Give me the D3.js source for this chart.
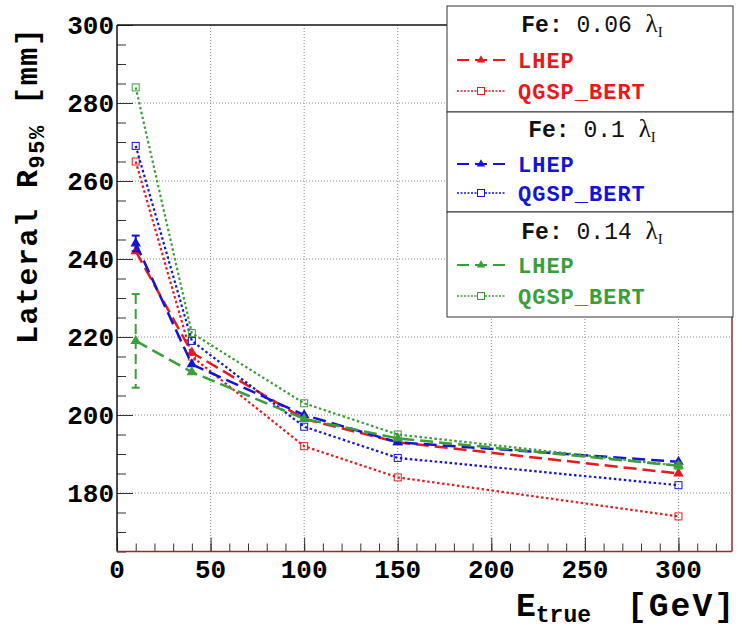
<!DOCTYPE html>
<html><head><meta charset="utf-8">
<script src="https://cdn.jsdelivr.net/npm/d3@7"></script>
<style>body{margin:0;background:#fff}</style>
</head><body>
<svg id="c" width="737" height="630"></svg>
<script>
// ---- data ----
const energies = [10, 40, 100, 150, 300];
const redLHEP    = [242, 216, 199, 193, 185];
const redQGSP    = [265, 215, 192, 184, 174];
const blueLHEP   = [244, 213, 200, 193, 188];
const blueQGSP   = [269, 219, 197, 189, 182];
const greenLHEP  = [219, 211, 199, 194, 187];
const greenQGSP  = [284, 221, 203, 195, 187];
const blueLHEPErr  = [2, 0, 0, 0, 0];
const greenLHEPErr = [12, 0, 0, 0, 0];
const legendTitles = ["0.06", "0.1", "0.14"];
const modelNames = ["LHEP", "QGSP_BERT"];
const xTicks = [0, 50, 100, 150, 200, 250, 300];
const yTicks = [180, 200, 220, 240, 260, 280, 300];

const RED = "#e8191c", BLUE = "#1414d8", GREEN = "#3a9e3a";
const series = [
  {vals: redLHEP, err: null, color: RED, model: 0},
  {vals: redQGSP, err: null, color: RED, model: 1},
  {vals: blueLHEP, err: blueLHEPErr, color: BLUE, model: 0},
  {vals: blueQGSP, err: null, color: BLUE, model: 1},
  {vals: greenLHEP, err: greenLHEPErr, color: GREEN, model: 0},
  {vals: greenQGSP, err: null, color: GREEN, model: 1}
];
const legendColors = [RED, BLUE, GREEN];

const svg = d3.select("#c");
const L = 117, R = 732, T = 25, B = 551.5;
const x = d3.scaleLinear().domain([0, 328.6]).range([L, R]);
const y = d3.scaleLinear().domain([165, 300]).range([B, T]);
const mono = "'Liberation Mono','Courier New',monospace";

// grid
const g = svg.append("g");
g.selectAll(".gx").data(xTicks.filter(d => d > 0)).enter().append("line")
  .attr("x1", d => x(d)).attr("x2", d => x(d)).attr("y1", T).attr("y2", B)
  .attr("stroke", "#8a8a8a").attr("stroke-width", 1).attr("stroke-dasharray", "1,2");
g.selectAll(".gy").data(yTicks.filter(d => d < 300)).enter().append("line")
  .attr("x1", L).attr("x2", R).attr("y1", d => y(d)).attr("y2", d => y(d))
  .attr("stroke", "#8a8a8a").attr("stroke-width", 1).attr("stroke-dasharray", "1,2");

// axes (ticks inward)
const xAxis = d3.axisTop(x).tickValues(d3.range(0, 330, 10)).tickSize(8).tickFormat("");
const xMaj = d3.axisTop(x).tickValues(xTicks).tickSize(14).tickFormat("");
const yAxis = d3.axisRight(y).tickValues(d3.range(165, 301, 5)).tickSize(9).tickFormat("");
const yMaj = d3.axisRight(y).tickValues(yTicks).tickSize(16).tickFormat("");
[[xAxis, `translate(0,${B})`], [xMaj, `translate(0,${B})`], [yAxis, `translate(${L},0)`], [yMaj, `translate(${L},0)`]].forEach(([ax, tr]) => {
  const a = svg.append("g").attr("transform", tr).call(ax);
  a.select(".domain").remove();
  a.selectAll("line").attr("stroke", "#333").attr("stroke-width", 1);
});

// frame
svg.append("line").attr("x1", L).attr("x2", R).attr("y1", T).attr("y2", T).attr("stroke", "#111").attr("stroke-width", 1.5);
svg.append("line").attr("x1", L).attr("x2", L).attr("y1", T).attr("y2", B).attr("stroke", "#111").attr("stroke-width", 1.5);
svg.append("line").attr("x1", L).attr("x2", R).attr("y1", B).attr("y2", B).attr("stroke", "#9a2a2a").attr("stroke-width", 1.5);
svg.append("line").attr("x1", R).attr("x2", R).attr("y1", T).attr("y2", B).attr("stroke", "#9a2a2a").attr("stroke-width", 1.5);

// tick labels
svg.append("g").selectAll("text").data(xTicks).enter().append("text")
  .attr("x", d => x(d)).attr("y", 578).attr("text-anchor", "middle")
  .attr("font-family", mono).attr("font-weight", "bold").attr("font-size", 26)
  .text(d => d);
svg.append("g").selectAll("text").data(yTicks).enter().append("text")
  .attr("x", 114).attr("y", d => y(d) + 9).attr("text-anchor", "end")
  .attr("font-family", mono).attr("font-weight", "bold").attr("font-size", 26)
  .text(d => d);

// axis titles
const xt = svg.append("text").attr("font-family", mono).attr("font-weight", "bold").attr("font-size", 33);
xt.append("tspan").attr("x", 516).attr("y", 616).text("E");
xt.append("tspan").attr("dy", 6).attr("font-size", 23).text("true");
xt.append("tspan").attr("x", 736).attr("y", 616).attr("text-anchor", "end").attr("letter-spacing", 2).text("[GeV]");
const yt = svg.append("text").attr("transform", "translate(37,344) rotate(-90)")
  .attr("font-family", mono).attr("font-weight", "bold").attr("font-size", 30).attr("letter-spacing", 1.5);
yt.append("tspan").text("Lateral R");
yt.append("tspan").attr("dy", 7).attr("font-size", 22).text("95%");
yt.append("tspan").attr("dy", -7).text(" [mm]");

// data lines
const line = d3.line().x(d => x(d[0])).y(d => y(d[1]));
const dashes = ["13,6", "2.5,2.5"];
const tri = d3.symbol().type(d3.symbolTriangle).size(48);
series.forEach(s => {
  const pts = energies.map((e, i) => [e, s.vals[i]]);
  svg.append("path").datum(pts).attr("d", line).attr("fill", "none")
    .attr("stroke", s.color).attr("stroke-width", s.model === 0 ? 2.5 : 2.2)
    .attr("stroke-dasharray", dashes[s.model]);
  if (s.err) {
    const eg = svg.append("g");
    energies.forEach((e, i) => {
      if (!s.err[i]) return;
      const xx = x(e), y1 = y(s.vals[i] + s.err[i]), y2 = y(s.vals[i] - s.err[i]);
      eg.append("line").attr("x1", xx).attr("x2", xx).attr("y1", y1).attr("y2", y2)
        .attr("stroke", s.color).attr("stroke-width", 2).attr("stroke-dasharray", s.err[i] > 5 ? "10,5" : null);
      [y1, y2].forEach(yy => eg.append("line").attr("x1", xx - 4).attr("x2", xx + 4).attr("y1", yy).attr("y2", yy)
        .attr("stroke", s.color).attr("stroke-width", 2));
    });
  }
  if (s.model === 0) {
    svg.append("g").selectAll("path").data(pts).enter().append("path")
      .attr("d", tri).attr("transform", d => `translate(${x(d[0])},${y(d[1])})`).attr("fill", s.color);
  } else {
    svg.append("g").selectAll("rect").data(pts).enter().append("rect")
      .attr("x", d => x(d[0]) - 3.5).attr("y", d => y(d[1]) - 3.5).attr("width", 7).attr("height", 7)
      .attr("fill", "none").attr("stroke", s.color).attr("stroke-width", 1);
  }
});

// legend
const boxes = [[6, 112], [112, 212], [212, 317]];
const titleBase = [32, 137, 239];
const rowBase = [[68, 99], [172, 201], [273, 304]];
const tri2 = d3.symbol().type(d3.symbolTriangle).size(30);
boxes.forEach((b, k) => {
  const lg = svg.append("g");
  lg.append("rect").attr("x", 447).attr("y", b[0]).attr("width", 286).attr("height", b[1] - b[0])
    .attr("fill", "#fff").attr("stroke", "#333").attr("stroke-width", 1);
  const t = lg.append("text").attr("x", 592).attr("y", titleBase[k]).attr("text-anchor", "middle")
    .attr("font-family", mono).attr("font-size", 23).attr("fill", "#111");
  t.append("tspan").attr("font-weight", "bold").text("Fe:");
  t.append("tspan").text(" " + legendTitles[k] + " ");
  t.append("tspan").attr("font-family", "'Liberation Serif','Times New Roman',serif").attr("font-size", 25).text("λ");
  t.append("tspan").attr("font-family", "'Liberation Serif','Times New Roman',serif").attr("font-size", 15).attr("dy", 5).text("I");
  modelNames.forEach((m, j) => {
    const yb = rowBase[k][j], ym = yb - 8;
    lg.append("line").attr("x1", 457).attr("x2", 505).attr("y1", ym).attr("y2", ym)
      .attr("stroke", legendColors[k]).attr("stroke-width", j === 0 ? 2 : 1.5)
      .attr("stroke-dasharray", j === 0 ? "12,6" : "2,1.5");
    if (j === 0) lg.append("path").attr("d", tri2).attr("transform", `translate(481,${ym})`).attr("fill", legendColors[k]);
    else lg.append("rect").attr("x", 477.5).attr("y", ym - 3.5).attr("width", 7).attr("height", 7)
      .attr("fill", "#fff").attr("stroke", legendColors[k]).attr("stroke-width", 1);
    lg.append("text").attr("x", 518).attr("y", yb).attr("font-family", mono).attr("font-weight", "bold")
      .attr("font-size", 22).attr("letter-spacing", 1).attr("fill", legendColors[k]).text(m);
  });
});
</script>
</body></html>
